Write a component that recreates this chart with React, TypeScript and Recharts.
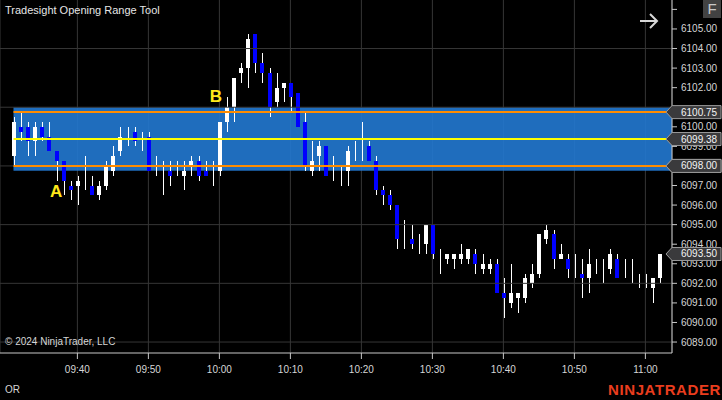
import {
  ComposedChart,
  Bar,
  XAxis,
  YAxis,
  CartesianGrid,
  ReferenceArea,
  ReferenceLine,
  ReferenceDot
} from "recharts"

// 1-minute bars, minutes after 09:30 (bar close time)
const minutes = [
  1, 2, 3, 4, 5, 6, 7, 8, 9, 10, 11, 12, 13, 14, 15, 16, 17, 18, 19, 20,
  21, 22, 23, 24, 25, 26, 27, 28, 29, 30, 31, 32, 33, 34, 35, 36, 37, 38, 39, 40,
  41, 42, 43, 44, 45, 46, 47, 48, 49, 50, 51, 52, 53, 54, 55, 56, 57, 58, 59, 60,
  61, 62, 63, 64, 65, 66, 67, 68, 69, 70, 71, 72, 73, 74, 75, 76, 77, 78, 79, 80,
  81, 82, 83, 84, 85, 86, 87, 88, 89, 90, 91, 92
]

const opens = [
  6098.5, 6100.0, 6100.0, 6099.25, 6100.0, 6099.5, 6098.75, 6098.25, 6097.0, 6097.0,
  6097.25, 6097.0, 6096.5, 6097.0, 6097.75, 6098.75, 6099.5, 6099.75, 6099.25, 6099.5,
  6098.0, 6097.75, 6097.75, 6097.75, 6097.5, 6098.0, 6098.25, 6097.75, 6097.75, 6097.75,
  6100.25, 6101.0, 6102.75, 6103.0, 6104.75, 6103.25, 6102.75, 6101.25, 6102.0, 6102.25,
  6101.75, 6100.25, 6097.75, 6098.5, 6099.0, 6097.75, 6097.5, 6097.75, 6098.75, 6099.0,
  6099.0, 6098.25, 6096.75, 6096.5, 6096.0, 6094.25, 6094.25, 6094.0, 6094.0, 6095.0,
  6093.25, 6093.25, 6093.25, 6093.25, 6093.25, 6093.5, 6092.75, 6092.75, 6093.0, 6091.5,
  6091.0, 6091.25, 6091.25, 6092.0, 6092.5, 6094.25, 6094.5, 6093.25, 6093.25, 6093.0,
  6092.5, 6092.25, 6093.0, 6092.75, 6092.75, 6093.25, 6092.75, 6092.75, 6092.0, 6092.0,
  6091.75, 6092.25
]

const highs = [
  6100.5, 6100.75, 6100.25, 6100.25, 6100.25, 6100.25, 6098.75, 6098.25, 6097.25, 6097.5,
  6098.5, 6097.5, 6097.25, 6098.25, 6099.0, 6100.0, 6100.0, 6100.0, 6099.75, 6099.75,
  6098.5, 6098.25, 6098.25, 6098.25, 6098.25, 6098.5, 6098.5, 6098.25, 6098.25, 6100.25,
  6101.5, 6102.5, 6103.25, 6104.75, 6104.75, 6103.75, 6103.0, 6102.75, 6102.25, 6102.25,
  6101.75, 6100.75, 6099.25, 6099.25, 6099.0, 6098.5, 6098.0, 6099.0, 6099.25, 6100.25,
  6099.25, 6098.5, 6097.0, 6096.75, 6096.0, 6095.25, 6095.0, 6094.5, 6095.0, 6095.0,
  6093.75, 6093.5, 6093.5, 6094.0, 6093.75, 6093.75, 6093.5, 6093.25, 6093.25, 6092.25,
  6093.0, 6091.5, 6092.5, 6093.0, 6094.5, 6095.0, 6094.75, 6094.0, 6093.5, 6093.5,
  6093.25, 6093.75, 6093.25, 6093.25, 6093.75, 6093.5, 6093.25, 6093.25, 6092.5, 6092.5,
  6092.25, 6093.5
]

const lows = [
  6098.0, 6099.25, 6098.5, 6098.5, 6099.25, 6098.75, 6097.25, 6096.5, 6096.25, 6096.0,
  6096.75, 6096.5, 6096.25, 6096.75, 6097.5, 6098.5, 6099.0, 6099.0, 6098.75, 6097.75,
  6097.5, 6096.5, 6097.0, 6097.5, 6096.75, 6097.5, 6097.25, 6097.5, 6097.0, 6097.5,
  6099.75, 6100.25, 6102.25, 6102.0, 6102.75, 6102.25, 6100.5, 6101.0, 6101.25, 6100.75,
  6100.0, 6097.75, 6097.5, 6097.75, 6097.5, 6097.25, 6097.0, 6097.0, 6098.25, 6098.25,
  6098.25, 6096.5, 6096.0, 6095.75, 6093.75, 6093.75, 6093.75, 6093.5, 6093.5, 6093.25,
  6092.5, 6093.0, 6092.75, 6093.0, 6093.0, 6092.5, 6092.5, 6092.5, 6091.5, 6090.25,
  6090.75, 6090.5, 6091.0, 6091.75, 6092.25, 6094.0, 6092.75, 6093.25, 6092.25, 6092.25,
  6091.25, 6091.5, 6092.5, 6092.0, 6092.5, 6092.25, 6092.25, 6092.0, 6091.75, 6091.75,
  6091.0, 6092.0
]

const closes = [
  6100.25, 6099.75, 6099.25, 6100.0, 6099.5, 6098.75, 6098.25, 6097.25, 6096.75, 6097.25,
  6097.25, 6096.5, 6097.0, 6098.0, 6098.5, 6099.5, 6099.5, 6099.25, 6099.25, 6097.75,
  6098.0, 6097.75, 6097.5, 6097.75, 6097.75, 6098.25, 6097.5, 6097.5, 6097.75, 6100.25,
  6101.0, 6102.5, 6103.0, 6104.5, 6103.25, 6102.75, 6101.0, 6102.0, 6102.25, 6101.5,
  6100.0, 6098.0, 6098.25, 6099.0, 6097.5, 6097.75, 6097.5, 6098.75, 6098.75, 6099.0,
  6098.25, 6096.75, 6096.5, 6096.0, 6094.25, 6094.25, 6094.0, 6094.0, 6095.0, 6093.5,
  6093.25, 6093.5, 6093.5, 6093.5, 6093.75, 6093.0, 6093.0, 6093.0, 6091.5, 6091.25,
  6091.5, 6091.5, 6092.25, 6092.5, 6094.5, 6094.75, 6093.25, 6093.5, 6092.75, 6093.0,
  6092.25, 6093.0, 6093.0, 6092.75, 6093.5, 6092.25, 6092.75, 6092.75, 6092.0, 6092.0,
  6092.25, 6093.5
]

// time axis
const timeTicks = [10, 20, 30, 40, 50, 60, 70, 80, 90]
const timeLabels = ["09:40", "09:50", "10:00", "10:10", "10:20", "10:30", "10:40", "10:50", "11:00"]

// price axis (6101 / 6098 sit under the range tags, 6106 is cut off at the top)
const priceTicks = [
  6089, 6090, 6091, 6092, 6093, 6094, 6095, 6096, 6097, 6098,
  6099, 6100, 6101, 6102, 6103, 6104, 6105, 6106
]
const hiddenPriceLabels = [6098, 6101, 6106]
const gridPrices = [6089, 6092, 6095, 6098, 6101, 6104]

// opening range
const orStart = 1
const orHigh = 6100.75
const orLow = 6098.0
const orMid = (orHigh + orLow) / 2
const orBoxTop = 6101.0
const orBoxBottom = 6097.75
const lastPrice = 6093.5
const tagPrices = [orHigh, orMid, orLow, lastPrice]

const signals = [
  { label: "A", t: 7, price: 6096.7 },
  { label: "B", t: 29.5, price: 6101.6 }
]

const X_DOMAIN: [number, number] = [-0.9, 93.75]
const Y_DOMAIN: [number, number] = [6088.44, 6106.48]

const candles = minutes.map((t, i) => ({
  t,
  open: opens[i],
  high: highs[i],
  low: lows[i],
  close: closes[i]
}))

const FONT = '"Liberation Sans", Arial, sans-serif'
const AXIS_TEXT = "#d6d6d6"
const GRID = "#363636"

function Candle(props: any) {
  const { x, y, width, height, payload } = props
  if (x == null || y == null || !payload) return null
  const top = Math.min(y, y + height)
  const h = Math.abs(height)
  const span = payload.high - payload.low || 1
  const toY = (p: number) => top + ((payload.high - p) / span) * h
  const cx = Math.round(x + width / 2)
  const up = payload.close > payload.open
  const bodyTop = toY(Math.max(payload.open, payload.close))
  const bodyBot = toY(Math.min(payload.open, payload.close))
  return (
    <g shapeRendering="crispEdges">
      <rect x={cx} y={top} width={1} height={h} fill="#ffffff" />
      {payload.close !== payload.open && (
        <rect
          x={cx - 2}
          y={bodyTop}
          width={4}
          height={Math.max(1, bodyBot - bodyTop)}
          fill={up ? "#ffffff" : "#0000ff"}
        />
      )}
    </g>
  )
}

// price axis tick: plain label, or an arrow tag for the range / last price
function PriceTick(props: any) {
  const { x, y, payload } = props
  const v = payload?.value
  if (v == null) return null
  if (tagPrices.includes(v)) {
    const right = x - 9
    const d = `M${right - 6},${y} L${right},${y - 6.5} L${right + 49},${y - 6.5} L${right + 49},${y + 6.5} L${right},${y + 6.5} Z`
    return (
      <g>
        <path d={d} fill="#3a3a3c" stroke="#9a9a9a" strokeWidth={1} />
        <text x={x} y={y} dominantBaseline="central" fontSize={10} fontFamily={FONT} fill="#f4f4f4">
          {v.toFixed(2)}
        </text>
      </g>
    )
  }
  if (hiddenPriceLabels.includes(v)) return null
  return (
    <text x={x} y={y} dominantBaseline="central" fontSize={10} fontFamily={FONT} fill={AXIS_TEXT}>
      {v.toFixed(2)}
    </text>
  )
}

export default function App() {
  return (
    <div
      style={{
        position: "absolute",
        left: 0,
        top: 0,
        width: 722,
        height: 400,
        background: "#000",
        overflow: "hidden",
        fontFamily: FONT
      }}
    >
      <ComposedChart
        width={722}
        height={400}
        data={candles}
        margin={{ top: 0, right: 0, bottom: 0, left: 0 }}
      >
        <CartesianGrid stroke={GRID} horizontal={false} vertical={true} />
        {gridPrices.map((p) => (
          <ReferenceLine key={`g${p}`} y={p} stroke={GRID} />
        ))}
        <XAxis
          dataKey="t"
          type="number"
          domain={X_DOMAIN}
          allowDataOverflow
          ticks={timeTicks}
          tickFormatter={(v) => timeLabels[timeTicks.indexOf(v)] ?? ""}
          height={47}
          stroke="#c8c8c8"
          tickSize={6}
          tickMargin={7}
          tick={{ fill: AXIS_TEXT, fontSize: 10, fontFamily: FONT }}
        />
        <YAxis
          orientation="right"
          type="number"
          domain={Y_DOMAIN}
          allowDataOverflow
          ticks={[...priceTicks, ...tagPrices]}
          interval={0}
          width={50}
          stroke="#c8c8c8"
          tickSize={5}
          tickMargin={4}
          tick={<PriceTick />}
        />
        <ReferenceArea
          x1={orStart}
          y1={orBoxBottom}
          y2={orBoxTop}
          fill="#2279d2"
          fillOpacity={0.9}
          stroke="none"
          ifOverflow="hidden"
        />
        <ReferenceLine
          segment={[{ x: orStart, y: orHigh }, { x: X_DOMAIN[1], y: orHigh }]}
          stroke="#ff8c00"
          strokeWidth={2}
        />
        <ReferenceLine
          segment={[{ x: orStart, y: orMid }, { x: X_DOMAIN[1], y: orMid }]}
          stroke="#ffff00"
          strokeWidth={2}
        />
        <ReferenceLine
          segment={[{ x: orStart, y: orLow }, { x: X_DOMAIN[1], y: orLow }]}
          stroke="#ff8c00"
          strokeWidth={2}
        />
        <Bar
          dataKey={(d: any) => [d.low, d.high]}
          barSize={4}
          shape={<Candle />}
          isAnimationActive={false}
        />
        {signals.map((s) => (
          <ReferenceDot
            key={s.label}
            x={s.t}
            y={s.price}
            r={1}
            fill="none"
            stroke="none"
            label={{
              value: s.label,
              position: "center",
              fill: "#ffe81a",
              fontSize: 17,
              fontWeight: "bold",
              fontFamily: FONT
            }}
          />
        ))}
      </ComposedChart>

      <div style={{ position: "absolute", left: 5, top: 4, fontSize: 11, color: "#e6e6e6" }}>
        Tradesight Opening Range Tool
      </div>
      <div
        style={{
          position: "absolute",
          left: 703,
          top: 0,
          width: 18,
          height: 18,
          background: "#424242",
          color: "#c8c8c8",
          fontSize: 15,
          lineHeight: "18px",
          textAlign: "center"
        }}
      >
        F
      </div>
      <svg style={{ position: "absolute", left: 639, top: 12 }} width={22} height={18}>
        <path d="M1,9 L18,9 M11,2 L18,9 L11,16" stroke="#d8d8d8" strokeWidth={2} fill="none" />
      </svg>
      <div style={{ position: "absolute", left: 5, top: 336, fontSize: 10, color: "#d6d6d6" }}>
        © 2024 NinjaTrader, LLC
      </div>
      <div style={{ position: "absolute", left: 5, top: 384, fontSize: 10, color: "#d6d6d6" }}>
        OR
      </div>
      <div
        style={{
          position: "absolute",
          left: 608,
          top: 381,
          fontSize: 15,
          fontWeight: "bold",
          color: "#ea3d1e",
          letterSpacing: 0.6
        }}
      >
        NINJATRADER
      </div>
    </div>
  )
}
